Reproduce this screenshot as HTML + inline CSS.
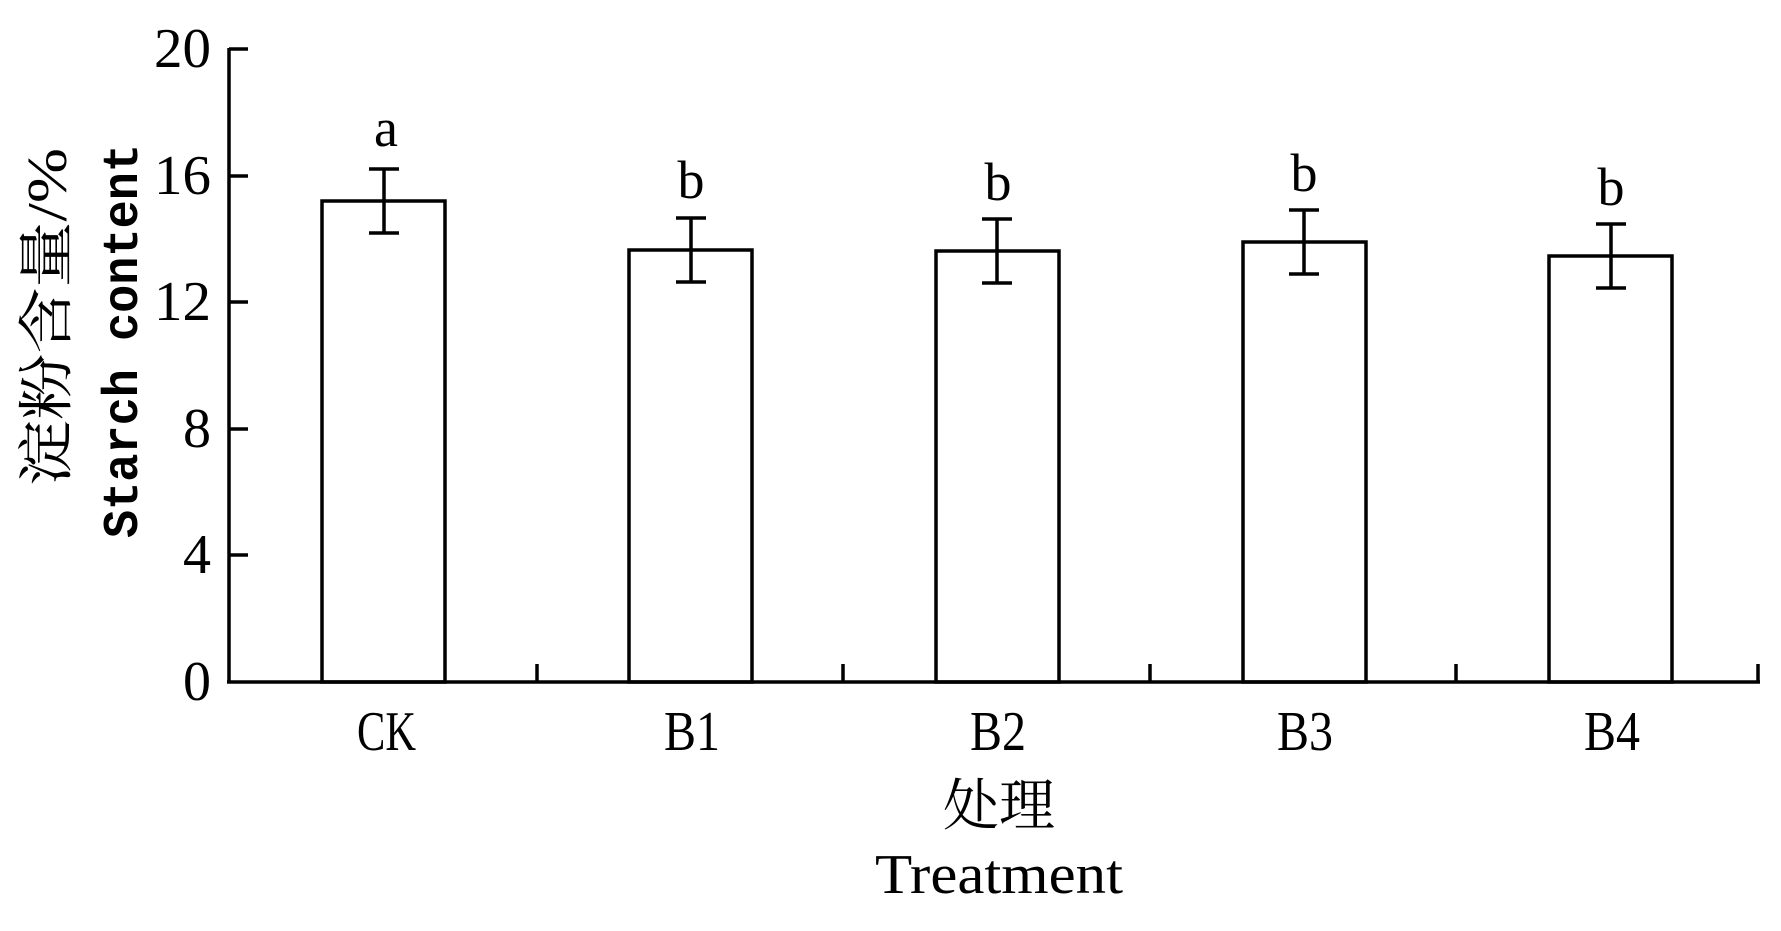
<!DOCTYPE html>
<html><head><meta charset="utf-8"><style>
html,body{margin:0;padding:0;background:#fff;}
svg text{font-family:"Liberation Serif","Noto Serif CJK SC",serif;fill:#000;}
.m{font-family:"Liberation Mono","Noto Serif CJK SC",monospace;}
</style></head><body>
<svg width="1781" height="926" viewBox="0 0 1781 926" xmlns="http://www.w3.org/2000/svg">
<g stroke="#000" stroke-width="3.5" fill="none">
<line x1="229" y1="48" x2="229" y2="683"/>
<line x1="227" y1="682" x2="1760" y2="682"/>
<line x1="229" y1="49" x2="248" y2="49"/>
<line x1="229" y1="176" x2="248" y2="176"/>
<line x1="229" y1="302" x2="248" y2="302"/>
<line x1="229" y1="429" x2="248" y2="429"/>
<line x1="229" y1="555" x2="248" y2="555"/>
<line x1="537" y1="682" x2="537" y2="664"/>
<line x1="843" y1="682" x2="843" y2="664"/>
<line x1="1150" y1="682" x2="1150" y2="664"/>
<line x1="1456" y1="682" x2="1456" y2="664"/>
<line x1="1758" y1="682" x2="1758" y2="664"/>
<rect x="322" y="201" width="123" height="481"/>
<rect x="629" y="250" width="123" height="432"/>
<rect x="936" y="251" width="123" height="431"/>
<rect x="1243" y="242" width="123" height="440"/>
<rect x="1549" y="256" width="123" height="426"/>
<path d="M384 169V233M369 169H399M369 233H399"/>
<path d="M691 218V282M676 218H706M676 282H706"/>
<path d="M997 219V283M982 219H1012M982 283H1012"/>
<path d="M1304 210V274M1289 210H1319M1289 274H1319"/>
<path d="M1611 224V288M1596 224H1626M1596 288H1626"/>
</g>
<g font-size="56">
<text x="154" y="67" textLength="57" lengthAdjust="spacingAndGlyphs">20</text>
<text x="154" y="194" textLength="57" lengthAdjust="spacingAndGlyphs">16</text>
<text x="154" y="320" textLength="57" lengthAdjust="spacingAndGlyphs">12</text>
<text x="183" y="447" textLength="28" lengthAdjust="spacingAndGlyphs">8</text>
<text x="183" y="573" textLength="28" lengthAdjust="spacingAndGlyphs">4</text>
<text x="183" y="700" textLength="28" lengthAdjust="spacingAndGlyphs">0</text>
<text x="357" y="750" textLength="59" lengthAdjust="spacingAndGlyphs">CK</text>
<text x="664" y="750" textLength="56" lengthAdjust="spacingAndGlyphs">B1</text>
<text x="970" y="750" textLength="56" lengthAdjust="spacingAndGlyphs">B2</text>
<text x="1277" y="750" textLength="56" lengthAdjust="spacingAndGlyphs">B3</text>
<text x="1584" y="750" textLength="56" lengthAdjust="spacingAndGlyphs">B4</text>
</g>
<g font-size="54" text-anchor="middle">
<text x="386" y="146">a</text>
<text x="691" y="198">b</text>
<text x="998" y="200">b</text>
<text x="1304" y="191">b</text>
<text x="1611" y="205">b</text>
<text x="999" y="825" font-size="56">处理</text>
</g>
<text x="875" y="893" font-size="56" textLength="248" lengthAdjust="spacingAndGlyphs">Treatment</text>
<text font-size="56" transform="translate(66,486) rotate(-90)" textLength="338" lengthAdjust="spacingAndGlyphs">淀粉含量/%</text>
<text class="m" font-size="50" font-weight="bold" transform="translate(137,538) rotate(-90)" textLength="394" lengthAdjust="spacingAndGlyphs">Starch content</text>
</svg>
</body></html>
